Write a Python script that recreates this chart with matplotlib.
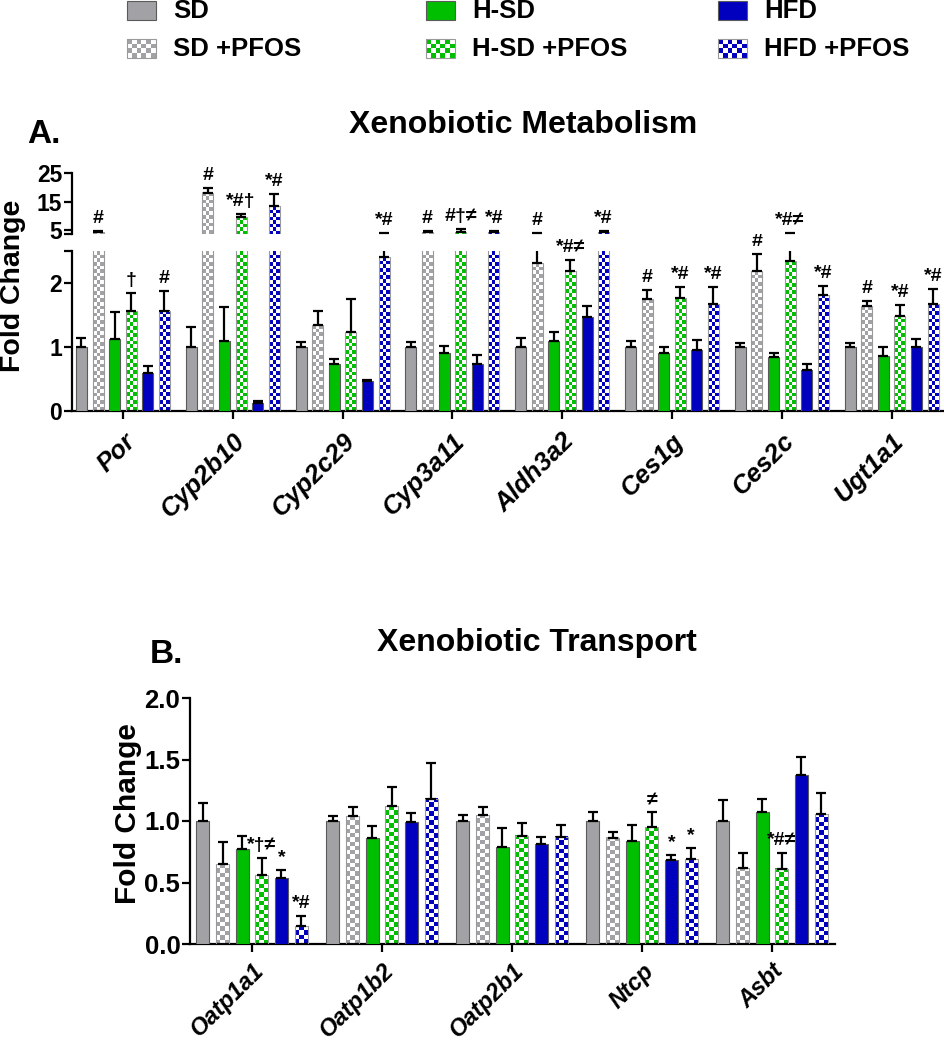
import numpy as np
import matplotlib
matplotlib.use("Agg")
import matplotlib.pyplot as plt
from matplotlib.patches import Rectangle
from matplotlib.colors import to_rgb

plt.rcParams['font.family'] = ['Liberation Sans', 'DejaVu Sans']
plt.rcParams['font.weight'] = 'bold'

# groups, in plotting order within each gene cluster
groups = ['SD', 'SD +PFOS', 'H-SD', 'H-SD +PFOS', 'HFD', 'HFD +PFOS']
fills = ['#a2a2a6', '#a2a2a6', '#00be00', '#00be00', '#0000be', '#0000be']
checkered = [False, True, False, True, False, True]

# Panel A: xenobiotic metabolism (fold change, mean and SEM per group)
genes_a = ['Por', 'Cyp2b10', 'Cyp2c29', 'Cyp3a11', 'Aldh3a2', 'Ces1g', 'Ces2c', 'Ugt1a1']
mean_a = [
    [1.0, 4.2, 1.13, 1.56, 0.60, 1.57],
    [1.0, 18.1, 1.10, 9.5, 0.13, 13.4],
    [1.0, 1.34, 0.73, 1.23, 0.47, 2.40],
    [1.0, 4.3, 0.90, 4.3, 0.73, 4.3],
    [1.0, 2.31, 1.10, 2.18, 1.47, 4.2],
    [1.0, 1.75, 0.90, 1.76, 0.95, 1.67],
    [1.0, 2.18, 0.84, 2.34, 0.64, 1.82],
    [1.0, 1.64, 0.86, 1.49, 1.00, 1.67],
]
sem_a = [
    [0.14, 0.3, 0.41, 0.28, 0.10, 0.31],
    [0.31, 1.5, 0.53, 1.1, 0.03, 4.1],
    [0.08, 0.22, 0.09, 0.52, 0.02, 1.6],
    [0.08, 0.3, 0.12, 1.0, 0.145, 0.3],
    [0.14, 1.59, 0.14, 0.18, 0.17, 0.3],
    [0.09, 0.14, 0.10, 0.17, 0.16, 0.26],
    [0.06, 0.27, 0.07, 1.56, 0.09, 0.13],
    [0.07, 0.08, 0.14, 0.17, 0.12, 0.24],
]
marks_a = [
    ['', '#', '', '†', '', '#'],
    ['', '#', '', '*#†', '', '*#'],
    ['', '', '', '', '', '*#'],
    ['', '#', '', '#†≠', '', '*#'],
    ['', '#', '', '*#≠', '', '*#'],
    ['', '#', '', '*#', '', '*#'],
    ['', '#', '', '*#≠', '', '*#'],
    ['', '#', '', '*#', '', '*#'],
]

# Panel B: xenobiotic transport
genes_b = ['Oatp1a1', 'Oatp1b2', 'Oatp2b1', 'Ntcp', 'Asbt']
mean_b = [
    [1.0, 0.65, 0.775, 0.56, 0.535, 0.15],
    [1.0, 1.04, 0.86, 1.12, 0.99, 1.18],
    [1.0, 1.05, 0.79, 0.88, 0.81, 0.87],
    [1.0, 0.865, 0.84, 0.95, 0.68, 0.69],
    [1.0, 0.62, 1.07, 0.61, 1.37, 1.06],
]
sem_b = [
    [0.15, 0.18, 0.105, 0.14, 0.065, 0.08],
    [0.04, 0.07, 0.10, 0.16, 0.075, 0.29],
    [0.05, 0.06, 0.15, 0.10, 0.06, 0.10],
    [0.07, 0.045, 0.13, 0.12, 0.04, 0.09],
    [0.17, 0.12, 0.11, 0.13, 0.15, 0.17],
]
marks_b = [
    ['', '', '', '*†≠', '*', '*#'],
    ['', '', '', '', '', ''],
    ['', '', '', '', '', ''],
    ['', '', '', '≠', '*', '*'],
    ['', '', '', '*#≠', '', ''],
]

STEP = 0.151
WIDTH = 0.10
EDGE = '#5a5a5a'
W, H = 945, 1050

fig = plt.figure(figsize=(W / 100, H / 100), dpi=100)


def px_axes(x0, y_top, x1, y_bot):
    # axes from pixel box (origin top-left)
    return fig.add_axes([x0 / W, 1 - y_bot / H, (x1 - x0) / W, (y_bot - y_top) / H])


def checker(ax, x0, x1, y0, y1, color, ncols=3):
    p0 = ax.transData.transform((x0, y0))
    p1 = ax.transData.transform((x1, y1))
    cell = (p1[0] - p0[0]) / ncols
    nrows = max(1, int(round((p1[1] - p0[1]) / cell)))
    c = np.array(to_rgb(color))
    img = np.ones((nrows, ncols, 3))
    ii, jj = np.indices((nrows, ncols))
    img[(ii + jj) % 2 == 0] = c
    ax.imshow(img, extent=(x0, x1, y0, y1), origin='lower', aspect='auto',
              interpolation='nearest', zorder=2)


def style_axes(ax, labelsize):
    for s in ['top', 'right']:
        ax.spines[s].set_visible(False)
    for s in ['left', 'bottom']:
        ax.spines[s].set_linewidth(1.6)
    ax.tick_params(width=1.6, length=6, labelsize=labelsize, pad=1)


def draw_panel(axes, genes, means, sems, marks):
    x = np.arange(len(genes))
    offsets = (np.arange(6) - 2.5) * STEP
    means = np.array(means)
    sems = np.array(sems)
    for ax in axes:
        lo, hi = ax.get_ylim()
        for gi in range(6):
            xs = x + offsets[gi]
            vals = means[:, gi]
            if checkered[gi]:
                ax.bar(xs, vals, width=WIDTH, facecolor='none', edgecolor='#9a9a9a',
                       linewidth=0.8, zorder=3)
                for xx, v in zip(xs, vals):
                    y0, y1 = max(0, lo), min(v, hi)
                    if y1 > y0:
                        checker(ax, xx - WIDTH / 2, xx + WIDTH / 2, y0, y1, fills[gi])
            else:
                ax.bar(xs, vals, width=WIDTH, color=fills[gi], edgecolor=EDGE,
                       linewidth=0.8, zorder=3)
            ax.errorbar(xs, vals, yerr=[np.zeros(len(vals)), sems[:, gi]], fmt='none',
                        ecolor='black', elinewidth=1.6, capsize=3.5, capthick=1.6, zorder=4)
    # significance marks go on whichever segment holds the error bar top
    for k in range(len(genes)):
        for gi in range(6):
            if not marks[k][gi]:
                continue
            top = means[k, gi] + sems[k, gi]
            ax = axes[-1]
            for a in axes:
                if a.get_ylim()[0] <= top <= a.get_ylim()[1]:
                    ax = a
            ax.annotate(marks[k][gi], xy=(k + offsets[gi], top), xytext=(0, 3),
                        textcoords='offset points', ha='center', va='bottom',
                        fontsize=14, fontweight='bold', zorder=5)


# ---- panel A (broken y axis) ----
ax_lo = px_axes(72, 251, 944, 411)
ax_hi = px_axes(72, 173, 944, 234)
ax_lo.set_xlim(-0.464, 7.477)
ax_hi.set_xlim(-0.464, 7.477)
ax_lo.set_ylim(0, 2.5)
ax_hi.set_ylim(3.6, 25)
style_axes(ax_lo, 16.5)
style_axes(ax_hi, 16.5)
ax_hi.spines['bottom'].set_visible(False)
ax_hi.tick_params(axis='x', bottom=False, labelbottom=False)
ax_lo.set_yticks([0, 1, 2, 2.5], ['0', '1', '2', ''])
ax_hi.set_yticks([3.6, 5, 15, 25], ['', '5', '15', '25'])
draw_panel([ax_lo, ax_hi], genes_a, mean_a, sem_a, marks_a)
ax_lo.set_xticks(range(len(genes_a)))
ax_lo.set_xticklabels(genes_a, rotation=45, ha='right', va='top', rotation_mode='anchor',
                      fontsize=18.5, fontstyle='italic', fontweight='bold')
ax_lo.tick_params(axis='x', pad=7)
ax_lo.set_xlim(-0.464, 7.477)
ax_hi.set_xlim(-0.464, 7.477)
ax_lo.set_ylim(0, 2.5)
ax_hi.set_ylim(3.6, 25)

# ---- panel B ----
ax_b = px_axes(190, 698, 835, 944)
ax_b.set_xlim(-0.477, 4.485)
ax_b.set_ylim(0, 2.0)
style_axes(ax_b, 18.5)
ax_b.set_yticks([0, 0.5, 1.0, 1.5, 2.0], ['0.0', '0.5', '1.0', '1.5', '2.0'])
draw_panel([ax_b], genes_b, mean_b, sem_b, marks_b)
ax_b.set_xticks(range(len(genes_b)))
ax_b.set_xticklabels(genes_b, rotation=45, ha='right', va='top', rotation_mode='anchor',
                     fontsize=17, fontstyle='italic', fontweight='bold')
ax_b.tick_params(axis='x', pad=5)
ax_b.set_xlim(-0.477, 4.485)
ax_b.set_ylim(0, 2.0)

# ---- overlay in pixel coordinates: titles, labels, legend ----
ov = fig.add_axes([0, 0, 1, 1])
ov.set_xlim(0, W)
ov.set_ylim(H, 0)
ov.axis('off')

ov.text(523, 133, 'Xenobiotic Metabolism', ha='center', va='baseline', fontsize=23)
ov.text(27, 143, 'A.', ha='left', va='baseline', fontsize=24)
ov.text(537, 651, 'Xenobiotic Transport', ha='center', va='baseline', fontsize=23)
ov.text(150, 663, 'B.', ha='left', va='baseline', fontsize=24)
ov.text(13, 286, 'Fold Change', rotation=90, ha='center', va='center', fontsize=20.5)
ov.text(128, 814, 'Fold Change', rotation=90, ha='center', va='center', fontsize=21.5)

leg_x = [127, 127, 426, 426, 718, 718]
leg_y = [1, 39, 1, 39, 1, 39]
for gi, name in enumerate(groups):
    x0, y0 = leg_x[gi], leg_y[gi]
    if checkered[gi]:
        img = np.ones((4, 6, 3))
        ii, jj = np.indices((4, 6))
        img[(ii + jj) % 2 == 0] = to_rgb(fills[gi])
        ov.imshow(img, extent=(x0, x0 + 29, y0 + 19, y0), aspect='auto',
                  interpolation='nearest', zorder=2)
        ov.add_patch(Rectangle((x0, y0), 29, 19, facecolor='none', edgecolor='#9a9a9a',
                               linewidth=0.8, zorder=3))
    else:
        ov.add_patch(Rectangle((x0, y0), 29, 19, facecolor=fills[gi], edgecolor=EDGE,
                               linewidth=0.8, zorder=3))
    ov.text(x0 + 46, y0 + 10, name, ha='left', va='center', fontsize=18.5)
ov.set_xlim(0, W)
ov.set_ylim(H, 0)

fig.savefig('out.png', dpi=100)
